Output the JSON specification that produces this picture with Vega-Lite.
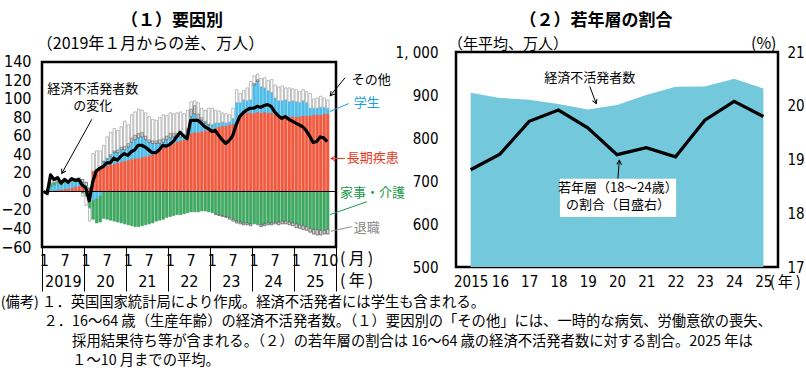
{
  "$schema": "https://vega.github.io/schema/vega-lite/v6.json",
  "padding": {"left": 0, "top": 10, "right": 0, "bottom": 0},
  "config": {
    "font": "Noto Sans CJK JP",
    "view": {"stroke": "black", "strokeWidth": 2.5},
    "axis": {"labelFont": "Liberation Sans Narrow, DejaVu Sans Condensed, sans-serif", "labelColor": "black", "grid": false, "domain": false, "tickColor": "black"},
    "title": {"font": "Noto Sans CJK JP", "fontSize": 17, "fontWeight": "bold", "color": "black"},
    "text": {"font": "Noto Sans CJK JP", "color": "black"}
  },
  "datasets": {
    "mon": [
      {"m":"2019-01","長期疾患":0,"学生":0,"家事・介護":0,"退職":0,"その他":0,"計":0},
      {"m":"2019-02","長期疾患":0,"学生":-3,"家事・介護":2,"退職":0,"その他":-1,"計":-2},
      {"m":"2019-03","長期疾患":1,"学生":4,"家事・介護":4,"退職":0,"その他":4,"計":18},
      {"m":"2019-04","長期疾患":1,"学生":6,"家事・介護":3,"退職":0,"その他":3,"計":13},
      {"m":"2019-05","長期疾患":2,"学生":7,"家事・介護":2,"退職":0,"その他":4,"計":15},
      {"m":"2019-06","長期疾患":2,"学生":5,"家事・介護":1,"退職":0,"その他":3,"計":9},
      {"m":"2019-07","長期疾患":3,"学生":7,"家事・介護":1,"退職":0,"その他":3,"計":13},
      {"m":"2019-08","長期疾患":3,"学生":6,"家事・介護":0,"退職":0,"その他":3,"計":10},
      {"m":"2019-09","長期疾患":4,"学生":7,"家事・介護":0,"退職":0,"その他":3,"計":14},
      {"m":"2019-10","長期疾患":5,"学生":6,"家事・介護":0,"退職":1,"その他":2,"計":12},
      {"m":"2019-11","長期疾患":6,"学生":6,"家事・介護":0,"退職":1,"その他":2,"計":13},
      {"m":"2019-12","長期疾患":6,"学生":4,"家事・介護":-2,"退職":3,"その他":-3,"計":7},
      {"m":"2020-01","長期疾患":4,"学生":2,"家事・介護":-5,"退職":4,"その他":-10,"計":4},
      {"m":"2020-02","長期疾患":3,"学生":-4,"家事・介護":-14,"退職":1,"その他":-14,"計":-10},
      {"m":"2020-03","長期疾患":22,"学生":-10,"家事・介護":-20,"退職":0,"その他":19,"計":10},
      {"m":"2020-04","長期疾患":24,"学生":-8,"家事・介護":-26,"退職":0,"その他":20,"計":22},
      {"m":"2020-05","長期疾患":26,"学生":-5,"家事・介護":-28,"退職":0,"その他":18,"計":25},
      {"m":"2020-06","長期疾患":27,"学生":5,"家事・介護":-29,"退職":1,"その他":17,"計":27},
      {"m":"2020-07","長期疾患":28,"学生":7,"家事・介護":-30,"退職":1,"その他":23,"計":31},
      {"m":"2020-08","長期疾患":29,"学生":9,"家事・介護":-31,"退職":2,"その他":24,"計":31},
      {"m":"2020-09","長期疾患":30,"学生":12,"家事・介護":-32,"退職":2,"その他":24,"計":36},
      {"m":"2020-10","長期疾患":31,"学生":11,"家事・介護":-33,"退職":3,"その他":21,"計":34},
      {"m":"2020-11","長期疾患":32,"学生":13,"家事・介護":-34,"退職":3,"その他":22,"計":38},
      {"m":"2020-12","長期疾患":33,"学生":12,"家事・介護":-35,"退職":4,"その他":27,"計":41},
      {"m":"2021-01","長期疾患":34,"学生":14,"家事・介護":-36,"退職":4,"その他":20,"計":39},
      {"m":"2021-02","長期疾患":35,"学生":18,"家事・介護":-37,"退職":5,"その他":25,"計":43},
      {"m":"2021-03","長期疾患":36,"学生":20,"家事・介護":-38,"退職":5,"その他":25,"計":45},
      {"m":"2021-04","長期疾患":36,"学生":22,"家事・介護":-38,"退職":5,"その他":26,"計":50},
      {"m":"2021-05","長期疾患":37,"学生":22,"家事・介護":-37,"退職":5,"その他":24,"計":50},
      {"m":"2021-06","長期疾患":38,"学生":18,"家事・介護":-36,"退職":4,"その他":25,"計":48},
      {"m":"2021-07","長期疾患":39,"学生":14,"家事・介護":-35,"退職":3,"その他":25,"計":45},
      {"m":"2021-08","長期疾患":40,"学生":12,"家事・介護":-34,"退職":3,"その他":23,"計":42},
      {"m":"2021-09","長期疾患":43,"学生":9,"家事・介護":-32,"退職":3,"その他":22,"計":42},
      {"m":"2021-10","長期疾患":46,"学生":6,"家事・介護":-31,"退職":4,"その他":24,"計":45},
      {"m":"2021-11","長期疾患":47,"学生":6,"家事・介護":-30,"退職":4,"その他":26,"計":50},
      {"m":"2021-12","長期疾患":48,"学生":8,"家事・介護":-28,"退職":4,"その他":22,"計":49},
      {"m":"2022-01","長期疾患":50,"学生":8,"家事・介護":-27,"退職":5,"その他":22,"計":51},
      {"m":"2022-02","長期疾患":52,"学生":7,"家事・介護":-26,"退職":4,"その他":21,"計":54},
      {"m":"2022-03","長期疾患":54,"学生":5,"家事・介護":-25,"退職":4,"その他":22,"計":59},
      {"m":"2022-04","長期疾患":55,"学生":4,"家事・介護":-25,"退職":3,"その他":24,"計":64},
      {"m":"2022-05","長期疾患":56,"学生":3,"家事・介護":-24,"退職":3,"その他":22,"計":60},
      {"m":"2022-06","長期疾患":58,"学生":6,"家事・介護":-23,"退職":4,"その他":20,"計":57},
      {"m":"2022-07","長期疾患":63,"学生":18,"家事・介護":-22,"退職":8,"その他":8,"計":77},
      {"m":"2022-08","長期疾患":64,"学生":20,"家事・介護":-22,"退職":9,"その他":5,"計":77},
      {"m":"2022-09","長期疾患":64,"学生":14,"家事・介護":-22,"退職":6,"その他":12,"計":77},
      {"m":"2022-10","長期疾患":65,"学生":12,"家事・介護":-21,"退職":3,"その他":10,"計":74},
      {"m":"2022-11","長期疾患":66,"学生":8,"家事・介護":-21,"退職":2,"その他":12,"計":70},
      {"m":"2022-12","長期疾患":66,"学生":6,"家事・介護":-22,"退職":1,"その他":17,"計":68},
      {"m":"2023-01","長期疾患":67,"学生":5,"家事・介護":-23,"退職":0,"その他":18,"計":65},
      {"m":"2023-02","長期疾患":69,"学生":5,"家事・介護":-24,"退職":-1,"その他":14,"計":66},
      {"m":"2023-03","長期疾患":70,"学生":4,"家事・介護":-25,"退職":-1,"その他":13,"計":61},
      {"m":"2023-04","長期疾患":71,"学生":4,"家事・介護":-26,"退職":-1,"その他":10,"計":56},
      {"m":"2023-05","長期疾患":71,"学生":3,"家事・介護":-27,"退職":-1,"その他":10,"計":52},
      {"m":"2023-06","長期疾患":72,"学生":3,"家事・介護":-28,"退職":-2,"その他":8,"計":55},
      {"m":"2023-07","長期疾患":73,"学生":6,"家事・介護":-30,"退職":-2,"その他":11,"計":60},
      {"m":"2023-08","長期疾患":74,"学生":22,"家事・介護":-32,"退職":-2,"その他":14,"計":72},
      {"m":"2023-09","長期疾患":82,"学生":14,"家事・介護":-33,"退職":-2,"その他":10,"計":81},
      {"m":"2023-10","長期疾患":84,"学生":15,"家事・介護":-34,"退職":-2,"その他":10,"計":85},
      {"m":"2023-11","長期疾患":85,"学生":13,"家事・介護":-34,"退職":-2,"その他":14,"計":88},
      {"m":"2023-12","長期疾患":85,"学生":14,"家事・介護":-35,"退職":-2,"その他":20,"計":90},
      {"m":"2024-01","長期疾患":85,"学生":30,"家事・介護":-35,"退職":2,"その他":8,"計":90},
      {"m":"2024-02","長期疾患":86,"学生":33,"家事・介護":-36,"退職":2,"その他":6,"計":92},
      {"m":"2024-03","長期疾患":85,"学生":28,"家事・介護":-36,"退職":-2,"その他":9,"計":91},
      {"m":"2024-04","長期疾患":86,"学生":26,"家事・介護":-35,"退職":-2,"その他":11,"計":93},
      {"m":"2024-05","長期疾患":85,"学生":24,"家事・介護":-34,"退職":-2,"その他":11,"計":94},
      {"m":"2024-06","長期疾患":85,"学生":22,"家事・介護":-34,"退職":-2,"その他":14,"計":92},
      {"m":"2024-07","長期疾患":84,"学生":17,"家事・介護":-33,"退職":-2,"その他":14,"計":86},
      {"m":"2024-08","長期疾患":83,"学生":15,"家事・介護":-33,"退職":-3,"その他":15,"計":82},
      {"m":"2024-09","長期疾患":82,"学生":16,"家事・介護":-32,"退職":-3,"その他":16,"計":79},
      {"m":"2024-10","長期疾患":82,"学生":17,"家事・介護":-32,"退職":-3,"その他":13,"計":81},
      {"m":"2024-11","長期疾患":81,"学生":16,"家事・介護":-33,"退職":-3,"その他":15,"計":78},
      {"m":"2024-12","長期疾患":81,"学生":17,"家事・介護":-34,"退職":-3,"その他":13,"計":76},
      {"m":"2025-01","長期疾患":81,"学生":16,"家事・介護":-35,"退職":-4,"その他":13,"計":74},
      {"m":"2025-02","長期疾患":81,"学生":15,"家事・介護":-36,"退職":-4,"その他":12,"計":72},
      {"m":"2025-03","長期疾患":82,"学生":16,"家事・介護":-37,"退職":-4,"その他":12,"計":70},
      {"m":"2025-04","長期疾患":82,"学生":14,"家事・介護":-38,"退職":-4,"その他":12,"計":66},
      {"m":"2025-05","長期疾患":82,"学生":8,"家事・介護":-40,"退職":-4,"その他":16,"計":60},
      {"m":"2025-06","長期疾患":83,"学生":7,"家事・介護":-41,"退職":-5,"その他":10,"計":53},
      {"m":"2025-07","長期疾患":83,"学生":7,"家事・介護":-41,"退職":-6,"その他":11,"計":54},
      {"m":"2025-08","長期疾患":83,"学生":8,"家事・介護":-42,"退職":-5,"その他":12,"計":59},
      {"m":"2025-09","長期疾患":84,"学生":7,"家事・介護":-42,"退職":-4,"その他":10,"計":58},
      {"m":"2025-10","長期疾患":84,"学生":6,"家事・介護":-41,"退職":-5,"その他":9,"計":54}
    ],
    "yr": [
      {"y":2015,"n":905,"r":18.81},
      {"y":2016,"n":893,"r":19.10},
      {"y":2017,"n":889,"r":19.71},
      {"y":2018,"n":879,"r":19.92},
      {"y":2019,"n":866,"r":19.59},
      {"y":2020,"n":877,"r":19.09},
      {"y":2021,"n":900,"r":19.22},
      {"y":2022,"n":919,"r":19.05},
      {"y":2023,"n":920,"r":19.73},
      {"y":2024,"n":938,"r":20.08},
      {"y":2025,"n":915,"r":19.80}
    ]
  },
  "title": {
    "text": [
      "(備考) １．英国国家統計局により作成。経済不活発者には学生も含まれる。",
      "\u200b\u3000\u3000\u3000２．16～64 歳（生産年齢）の経済不活発者数。（１）要因別の「その他」には、一時的な病気、労働意欲の喪失、",
      "\u200b\u3000\u3000\u3000\u3000\u3000採用結果待ち等が含まれる。（２）の若年層の割合は 16～64 歳の経済不活発者数に対する割合。2025 年は",
      "\u200b\u3000\u3000\u3000\u3000\u3000１～10 月までの平均。"
    ],
    "orient": "bottom", "anchor": "start", "fontSize": 14.3, "fontWeight": "normal", "lineHeight": 19.6, "offset": 4
  },
  "spacing": -12,
  "hconcat": [
    {
      "width": 294, "height": 195,
      "view": {"stroke": null},
      "title": {"text": "（１）要因別", "dx": -17, "offset": 6, "frame": "group"},
      "resolve": {"axis": {"x": "independent", "y": "independent"}},
      "layer": [
        {
          "data": {"name": "mon"},
          "transform": [
            {"fold": ["長期疾患","学生","家事・介護","退職","その他"], "as": ["k","v"]},
            {"calculate": "indexof(['長期疾患','学生','家事・介護','退職','その他'], datum.k)", "as": "o"}
          ],
          "mark": {"type": "bar", "strokeWidth": 0.7},
          "encoding": {
            "x": {"field": "m", "timeUnit": "utcyearmonth", "type": "temporal",
              "scale": {"type": "utc", "domain": [{"year":2019,"month":1,"date":1,"utc":true},{"year":2026,"month":1,"date":1,"utc":true}]},
              "axis": {"orient": "bottom", "title": null, "values": [
                {"year":2019,"month":1,"date":16,"utc":true},{"year":2019,"month":7,"date":16,"utc":true},
                {"year":2020,"month":1,"date":16,"utc":true},{"year":2020,"month":7,"date":16,"utc":true},
                {"year":2021,"month":1,"date":16,"utc":true},{"year":2021,"month":7,"date":16,"utc":true},
                {"year":2022,"month":1,"date":16,"utc":true},{"year":2022,"month":7,"date":16,"utc":true},
                {"year":2023,"month":1,"date":16,"utc":true},{"year":2023,"month":7,"date":16,"utc":true},
                {"year":2024,"month":1,"date":16,"utc":true},{"year":2024,"month":7,"date":16,"utc":true},
                {"year":2025,"month":1,"date":16,"utc":true},{"year":2025,"month":7,"date":14,"utc":true},
                {"year":2025,"month":10,"date":29,"utc":true}],
                "labelExpr": "'' + (utcmonth(datum.value) + 1)", "tickSize": 0, "labelPadding": 5, "labelFontSize": 16,
                "labelOverlap": false, "labelFlush": false, "labelBound": false}},
            "y": {"field": "v", "type": "quantitative", "stack": "zero",
              "scale": {"domain": [-60, 150.81], "nice": false, "zero": false},
              "axis": {"title": null, "values": [-60,-40,-20,0,20,40,60,80,100,120,140], "labelFontSize": 16, "tickSize": 0, "labelPadding": 11}},
            "fill": {"field": "k", "type": "nominal", "legend": null,
              "scale": {"domain": ["長期疾患","学生","家事・介護","退職","その他"], "range": ["#f05a3f","#4dbbea","#3fa862","#d4d4d4","#ffffff"]}},
            "stroke": {"field": "k", "type": "nominal", "legend": null,
              "scale": {"domain": ["長期疾患","学生","家事・介護","退職","その他"], "range": ["#f05a3f","#4dbbea","#3fa862","#555555","#a0a0a0"]}},
            "order": {"field": "o"}
          }
        },
        {
          "data": {"values": [{}]},
          "mark": {"type": "rule", "color": "black", "strokeWidth": 1},
          "encoding": {"y": {"datum": 0, "type": "quantitative", "scale": {"domain": [-60, 150.81], "nice": false, "zero": false}, "axis": null}}
        },
        {
          "data": {"values": [{}]},
          "mark": {"type": "rect", "filled": false, "color": "black", "strokeWidth": 2.5},
          "encoding": {
            "x": {"datum": {"year":2019,"month":1,"date":1,"utc":true}, "type": "temporal", "scale": {"type": "utc", "domain": [{"year":2019,"month":1,"date":1,"utc":true},{"year":2026,"month":1,"date":1,"utc":true}]}, "axis": null},
            "x2": {"datum": {"year":2026,"month":1,"date":1,"utc":true}},
            "y": {"datum": -60, "type": "quantitative", "scale": {"domain": [-60, 150.81], "nice": false, "zero": false}, "axis": null},
            "y2": {"datum": 140}
          }
        },
        {
          "data": {"name": "mon"},
          "mark": {"type": "line", "color": "black", "strokeWidth": 3.2, "strokeJoin": "round"},
          "encoding": {
            "x": {"field": "m", "timeUnit": "utcyearmonth", "type": "temporal", "bandPosition": 0.5,
              "scale": {"type": "utc", "domain": [{"year":2019,"month":1,"date":1,"utc":true},{"year":2026,"month":1,"date":1,"utc":true}]},
              "axis": {"orient": "bottom", "title": null, "values": [
                {"year":2019,"month":7,"date":1,"utc":true},{"year":2020,"month":7,"date":1,"utc":true},
                {"year":2021,"month":7,"date":1,"utc":true},{"year":2022,"month":7,"date":1,"utc":true},
                {"year":2023,"month":7,"date":1,"utc":true},{"year":2024,"month":7,"date":1,"utc":true},
                {"year":2025,"month":7,"date":1,"utc":true}],
                "labelExpr": "utcyear(datum.value) == 2019 ? '2019' : substring('' + utcyear(datum.value), 2)",
                "tickSize": 0, "labelPadding": 26, "labelFontSize": 16, "labelOverlap": false, "labelFlush": false, "labelBound": false}},
            "y": {"field": "計", "type": "quantitative", "scale": {"domain": [-60, 150.81], "nice": false, "zero": false}, "axis": null}
          }
        },
        {
          "data": {"values": [
            {"x": "2020-03-17", "y": 110.5, "t": "経済不活発者数"},
            {"x": "2020-03-17", "y": 92, "t": "の変化"}
          ]},
          "mark": {"type": "text", "align": "center", "baseline": "middle", "fontSize": 13},
          "encoding": {
            "x": {"field": "x", "type": "temporal",
              "scale": {"type": "utc", "domain": [{"year":2019,"month":1,"date":1,"utc":true},{"year":2026,"month":1,"date":1,"utc":true}]},
              "axis": {"orient": "bottom", "title": null, "values": [
                {"year":2019,"month":1,"date":1,"utc":true},{"year":2020,"month":1,"date":1,"utc":true},
                {"year":2021,"month":1,"date":1,"utc":true},{"year":2022,"month":1,"date":1,"utc":true},
                {"year":2023,"month":1,"date":1,"utc":true},{"year":2024,"month":1,"date":1,"utc":true},
                {"year":2025,"month":1,"date":1,"utc":true},{"year":2026,"month":1,"date":1,"utc":true}],
                "labels": false, "tickSize": 44, "tickWidth": 1}},
            "y": {"field": "y", "type": "quantitative", "scale": {"domain": [-60, 150.81], "nice": false, "zero": false}, "axis": null},
            "text": {"field": "t"}
          }
        },
        {
          "data": {"values": [
            {"x": "2018-11-17", "y": 159.5, "t": "（2019年１月からの差、万人）"}
          ]},
          "mark": {"type": "text", "align": "left", "baseline": "middle", "fontSize": 16},
          "encoding": {
            "x": {"field": "x", "type": "temporal", "scale": {"type": "utc", "domain": [{"year":2019,"month":1,"date":1,"utc":true},{"year":2026,"month":1,"date":1,"utc":true}]}, "axis": null},
            "y": {"field": "y", "type": "quantitative", "scale": {"domain": [-60, 150.81], "nice": false, "zero": false}, "axis": null},
            "text": {"field": "t"}
          }
        },
        {
          "data": {"values": [
            {"x": "2026-02-05", "y": -73.5, "t": "(\u2009月\u2009)"},
            {"x": "2026-02-05", "y": -96.5, "t": "(\u2009年\u2009)"}
          ]},
          "mark": {"type": "text", "align": "left", "baseline": "middle", "fontSize": 16},
          "encoding": {
            "x": {"field": "x", "type": "temporal", "scale": {"type": "utc", "domain": [{"year":2019,"month":1,"date":1,"utc":true},{"year":2026,"month":1,"date":1,"utc":true}]}, "axis": null},
            "y": {"field": "y", "type": "quantitative", "scale": {"domain": [-60, 150.81], "nice": false, "zero": false}, "axis": null},
            "text": {"field": "t"}
          }
        },
        {
          "data": {"values": [
            {"x": "2020-03-09", "y": 78, "x2": "2019-06-22", "y2": 19.5, "k": "計"},
            {"x": "2025-11-12", "y": 103.5, "x2": "2026-03-21", "y2": 123, "k": "その他"},
            {"x": "2025-11-09", "y": 86.5, "x2": "2026-04-22", "y2": 95.1, "k": "学生"},
            {"x": "2025-11-18", "y": 35.7, "x2": "2026-03-18", "y2": 35.7, "k": "長期疾患"},
            {"x": "2025-11-09", "y": -25, "x2": "2026-09-28", "y2": -11, "k": "家事・介護"},
            {"x": "2025-11-18", "y": -43, "x2": "2026-05-18", "y2": -38, "k": "退職"}
          ]},
          "mark": {"type": "rule", "strokeWidth": 1},
          "encoding": {
            "x": {"field": "x", "type": "temporal", "scale": {"type": "utc", "domain": [{"year":2019,"month":1,"date":1,"utc":true},{"year":2026,"month":1,"date":1,"utc":true}]}, "axis": null},
            "x2": {"field": "x2"},
            "y": {"field": "y", "type": "quantitative", "scale": {"domain": [-60, 150.81], "nice": false, "zero": false}, "axis": null},
            "y2": {"field": "y2"},
            "color": {"field": "k", "type": "nominal", "legend": null,
              "scale": {"domain": ["計","その他","学生","長期疾患","家事・介護","退職"], "range": ["black","black","#1b9ee0","#e83820","#1a9a48","#8c8c8c"]}}
          }
        },
        {
          "data": {"values": [
            {"x": "2026-05-18", "y": 121, "k": "その他"},
            {"x": "2026-06-04", "y": 95.5, "k": "学生"},
            {"x": "2026-04-04", "y": 36, "k": "長期疾患"},
            {"x": "2026-02-04", "y": -1.8, "k": "家事・介護"},
            {"x": "2026-06-04", "y": -40, "k": "退職"}
          ]},
          "mark": {"type": "text", "align": "left", "baseline": "middle", "fontSize": 13},
          "encoding": {
            "x": {"field": "x", "type": "temporal", "scale": {"type": "utc", "domain": [{"year":2019,"month":1,"date":1,"utc":true},{"year":2026,"month":1,"date":1,"utc":true}]}, "axis": null},
            "y": {"field": "y", "type": "quantitative", "scale": {"domain": [-60, 150.81], "nice": false, "zero": false}, "axis": null},
            "text": {"field": "k"},
            "color": {"field": "k", "type": "nominal", "legend": null,
              "scale": {"domain": ["計","その他","学生","長期疾患","家事・介護","退職"], "range": ["black","black","#1b9ee0","#e83820","#1a9a48","#8c8c8c"]}}
          }
        },
        {
          "data": {"values": [{"x": "2019-06-22", "y": 19.5}]},
          "mark": {"type": "point", "shape": "M-0.8,1.4L0,0L0.8,1.4", "size": 36, "filled": false, "color": "black", "strokeWidth": 1, "opacity": 1, "angle": 209},
          "encoding": {
            "x": {"field": "x", "type": "temporal", "scale": {"type": "utc", "domain": [{"year":2019,"month":1,"date":1,"utc":true},{"year":2026,"month":1,"date":1,"utc":true}]}, "axis": null},
            "y": {"field": "y", "type": "quantitative", "scale": {"domain": [-60, 150.81], "nice": false, "zero": false}, "axis": null}
          }
        },
        {
          "data": {"values": [{"x": "2025-11-12", "y": 103.5}]},
          "mark": {"type": "point", "shape": "M-0.8,1.4L0,0L0.8,1.4", "size": 36, "filled": false, "color": "black", "strokeWidth": 1, "opacity": 1, "angle": 220},
          "encoding": {
            "x": {"field": "x", "type": "temporal", "scale": {"type": "utc", "domain": [{"year":2019,"month":1,"date":1,"utc":true},{"year":2026,"month":1,"date":1,"utc":true}]}, "axis": null},
            "y": {"field": "y", "type": "quantitative", "scale": {"domain": [-60, 150.81], "nice": false, "zero": false}, "axis": null}
          }
        },
        {
          "data": {"values": [{"x": "2025-11-18", "y": 35.7}]},
          "mark": {"type": "point", "shape": "M-0.8,1.4L0,0L0.8,1.4", "size": 36, "filled": false, "color": "#e83820", "strokeWidth": 1, "opacity": 1, "angle": 270},
          "encoding": {
            "x": {"field": "x", "type": "temporal", "scale": {"type": "utc", "domain": [{"year":2019,"month":1,"date":1,"utc":true},{"year":2026,"month":1,"date":1,"utc":true}]}, "axis": null},
            "y": {"field": "y", "type": "quantitative", "scale": {"domain": [-60, 150.81], "nice": false, "zero": false}, "axis": null}
          }
        }
      ]
    },
    {
      "width": 322, "height": 215,
      "title": {"text": "（２）若年層の割合", "dx": -21, "offset": 6, "frame": "group"},
      "resolve": {"scale": {"y": "independent"}, "axis": {"x": "independent", "y": "independent"}},
      "layer": [
        {
          "resolve": {"axis": {"x": "independent", "y": "independent"}},
          "layer": [
            {
              "data": {"name": "yr"},
              "mark": {"type": "area", "color": "#74c8dc", "opacity": 1},
              "encoding": {
                "x": {"field": "y", "type": "quantitative", "scale": {"domain": [2014.5, 2025.5], "nice": false, "zero": false},
                  "axis": {"title": null, "values": [2015,2016,2017,2018,2019,2020,2021,2022,2023,2024,2025],
                    "labelExpr": "datum.value == 2015 ? '2015' : substring('' + datum.value, 2)",
                    "tickSize": 0, "labelPadding": 7, "labelFontSize": 15, "labelFlush": false, "labelOverlap": false}},
                "y": {"field": "n", "type": "quantitative", "scale": {"domain": [500, 1000], "nice": false, "zero": false},
                  "axis": {"title": null, "values": [500,600,700,800,900,1000], "labelExpr": "datum.value == 1000 ? '1, 000' : datum.label",
                    "tickSize": 0, "labelPadding": 18, "labelFontSize": 15}},
                "y2": {"datum": 500}
              }
            },
            {
              "data": {"values": [{"x": 2019.07, "y": 920, "x2": 2019.29, "y2": 880}, {"x": 2020.03, "y": 705, "x2": 2020.08, "y2": 748}]},
              "mark": {"type": "rule", "color": "black", "strokeWidth": 1},
              "encoding": {
                "x": {"field": "x", "type": "quantitative", "scale": {"domain": [2014.5, 2025.5], "nice": false, "zero": false}, "axis": null},
                "x2": {"field": "x2"},
                "y": {"field": "y", "type": "quantitative", "scale": {"domain": [500, 1000], "nice": false, "zero": false}, "axis": null},
                "y2": {"field": "y2"}
              }
            },
            {
              "data": {"values": [{"x": 2019.29, "y": 880}]},
              "mark": {"type": "point", "shape": "M-0.8,1.4L0,0L0.8,1.4", "size": 36, "filled": false, "color": "black", "strokeWidth": 1, "opacity": 1, "angle": 159},
              "encoding": {
                "x": {"field": "x", "type": "quantitative", "scale": {"domain": [2014.5, 2025.5], "nice": false, "zero": false}, "axis": null},
                "y": {"field": "y", "type": "quantitative", "scale": {"domain": [500, 1000], "nice": false, "zero": false}, "axis": null}
              }
            },
            {
              "data": {"values": [{"x": 2020.08, "y": 748}]},
              "mark": {"type": "point", "shape": "M-0.8,1.4L0,0L0.8,1.4", "size": 36, "filled": false, "color": "black", "strokeWidth": 1, "opacity": 1, "angle": 3},
              "encoding": {
                "x": {"field": "x", "type": "quantitative", "scale": {"domain": [2014.5, 2025.5], "nice": false, "zero": false}, "axis": null},
                "y": {"field": "y", "type": "quantitative", "scale": {"domain": [500, 1000], "nice": false, "zero": false}, "axis": null}
              }
            },
            {
              "data": {"values": [{"x": 2018.05, "x2": 2022.02, "y": 616, "y2": 705}]},
              "mark": {"type": "rect", "color": "white"},
              "encoding": {
                "x": {"field": "x", "type": "quantitative", "scale": {"domain": [2014.5, 2025.5], "nice": false, "zero": false}, "axis": null},
                "x2": {"field": "x2"},
                "y": {"field": "y", "type": "quantitative", "scale": {"domain": [500, 1000], "nice": false, "zero": false}, "axis": null},
                "y2": {"field": "y2"}
              }
            },
            {
              "data": {"values": [
                {"x": 2019.07, "y": 939.5, "t": "経済不活発者数"},
                {"x": 2020.03, "y": 684, "t": "若年層（18～24歳）"},
                {"x": 2020.03, "y": 644, "t": "の割合（目盛右）"}
              ]},
              "mark": {"type": "text", "align": "center", "baseline": "middle", "fontSize": 13},
              "encoding": {
                "x": {"field": "x", "type": "quantitative", "scale": {"domain": [2014.5, 2025.5], "nice": false, "zero": false}, "axis": null},
                "y": {"field": "y", "type": "quantitative", "scale": {"domain": [500, 1000], "nice": false, "zero": false}, "axis": null},
                "text": {"field": "t"}
              }
            },
            {
              "data": {"values": [
                {"x": 2014.23, "y": 1018.6, "t": "（年平均、万人）"}
              ]},
              "mark": {"type": "text", "align": "left", "baseline": "middle", "fontSize": 15},
              "encoding": {
                "x": {"field": "x", "type": "quantitative", "scale": {"domain": [2014.5, 2025.5], "nice": false, "zero": false}, "axis": null},
                "y": {"field": "y", "type": "quantitative", "scale": {"domain": [500, 1000], "nice": false, "zero": false}, "axis": null},
                "text": {"field": "t"}
              }
            },
            {
              "data": {"values": [
                {"x": 2025.22, "y": 466, "t": "(\u2009年\u2009)"}
              ]},
              "mark": {"type": "text", "align": "left", "baseline": "middle", "fontSize": 15},
              "encoding": {
                "x": {"field": "x", "type": "quantitative", "scale": {"domain": [2014.5, 2025.5], "nice": false, "zero": false}, "axis": null},
                "y": {"field": "y", "type": "quantitative", "scale": {"domain": [500, 1000], "nice": false, "zero": false}, "axis": null},
                "text": {"field": "t"}
              }
            },
            {
              "data": {"values": [
                {"x": 2025.45, "y": 1018.6, "t": "(%)"}
              ]},
              "mark": {"type": "text", "align": "right", "baseline": "middle", "fontSize": 16},
              "encoding": {
                "x": {"field": "x", "type": "quantitative", "scale": {"domain": [2014.5, 2025.5], "nice": false, "zero": false}, "axis": null},
                "y": {"field": "y", "type": "quantitative", "scale": {"domain": [500, 1000], "nice": false, "zero": false}, "axis": null},
                "text": {"field": "t"}
              }
            }
          ]
        },
        {
          "data": {"name": "yr"},
          "mark": {"type": "line", "color": "black", "strokeWidth": 3.2, "strokeJoin": "miter"},
          "encoding": {
            "x": {"field": "y", "type": "quantitative", "scale": {"domain": [2014.5, 2025.5], "nice": false, "zero": false}, "axis": null},
            "y": {"field": "r", "type": "quantitative", "scale": {"domain": [17, 21], "nice": false, "zero": false},
              "axis": {"title": null, "orient": "right", "values": [17,18,19,20,21], "tickSize": 0, "labelPadding": 9, "labelFontSize": 15}}
          }
        }
      ]
    }
  ]
}
